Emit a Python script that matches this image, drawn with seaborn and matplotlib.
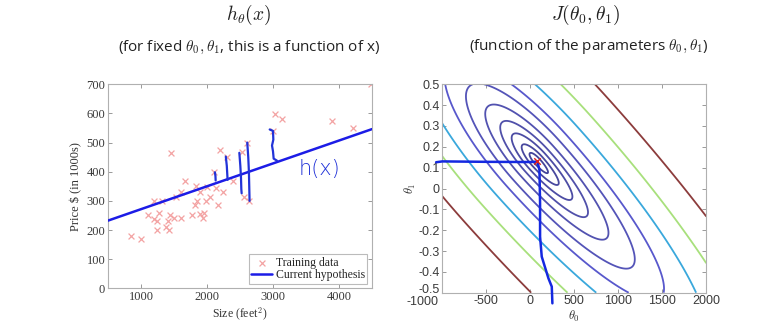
import numpy as np
import pandas as pd
import matplotlib
matplotlib.use("Agg")
import matplotlib.pyplot as plt
import matplotlib.transforms as mtransforms
import seaborn as sns

# ---------------- data ----------------
# training data (house size in feet^2, price in $1000s)
size_sqft = [2104, 1600, 2400, 1416, 3000, 1985, 1534, 1427, 1380, 1494, 1940, 2000,
             1890, 4478, 1268, 2300, 1320, 1236, 2609, 3031, 1767, 1888, 1604, 1962,
             3890, 1100, 1458, 2526, 2200, 2637, 1839, 1000, 2040, 3137, 1811, 1437,
             1239, 2132, 4215, 2162, 1664, 2238, 2567, 1200, 852, 1852, 1203]
price_k = [399.9, 329.9, 369.0, 232.0, 539.9, 299.9, 314.9, 199.0, 212.0, 242.5, 240.0, 347.0,
           330.0, 699.9, 259.9, 449.9, 299.9, 199.9, 500.0, 599.0, 252.9, 255.0, 242.9, 259.9,
           573.9, 249.9, 464.5, 469.0, 475.0, 299.9, 349.9, 169.9, 314.9, 579.9, 285.9, 249.9,
           229.9, 345.0, 549.0, 287.0, 368.5, 329.9, 314.0, 299.0, 179.9, 299.9, 239.5]

# current hypothesis h(x) = theta0 + theta1 * x
hyp_theta0 = 193.0
hyp_theta1 = 0.0785
hyp_x_range = [500, 4500]

left_xticks = [1000, 2000, 3000, 4000]
left_yticks = [0, 100, 200, 300, 400, 500, 600, 700]

# hand-drawn strokes on the left panel (data coords)
stroke_x = [[2120, 2128, 2131],
            [2285, 2300, 2310, 2312],
            [2490, 2505, 2515, 2520, 2525],
            [2610, 2625, 2635, 2640, 2645]]
stroke_y = [[398, 385, 370],
            [452, 420, 380, 372],
            [465, 420, 380, 340, 326],
            [500, 450, 400, 350, 300]]
bracket_x = [2950, 3000, 3005, 2985, 3000, 3010, 3060]
bracket_y = [545, 540, 510, 490, 470, 445, 438]

# cost function contour (quadratic bowl, shape parameters in axes-height units)
bowl_center = (80, 0.13)
bowl_angle_deg = 48.0
bowl_major_upper = 0.486
bowl_major_lower = 0.68
bowl_minor = 0.145
contour_sizes = [0.11, 0.22, 0.36, 0.52, 0.73, 1.0, 1.3, 1.75, 2.32, 3.13]
contour_colors = ['#44449a', '#48489e', '#4c4ca4', '#5050aa', '#5252b0', '#5454b8',
                  '#5858cc', '#3aa8dc', '#a8e07c', '#8c3c3c']

right_xticks = [-1000, -500, 0, 500, 1000, 1500, 2000]
right_yticks = [-0.5, -0.4, -0.3, -0.2, -0.1, 0, 0.1, 0.2, 0.3, 0.4, 0.5]
right_ylabels = ['-0.5', '-0.4', '-0.3', '-0.2', '-0.1', '0', '0.1', '0.2', '0.3', '0.4', '0.5']

# hand-drawn descent path on the right panel
path_t0 = [-1070, -1000, -500, 0, 81, 104, 111, 111, 130, 206, 244, 251]
path_t1 = [0.126, 0.13, 0.128, 0.127, 0.129, 0.089, -0.071, -0.231, -0.327, -0.431, -0.471, -0.551]
current_point = ([80], [0.13])

# ---------------- figure ----------------
sns.set_theme(style="white")
plt.rcParams['mathtext.fontset'] = 'cm'
plt.rcParams['font.family'] = ['DejaVu Sans']

W, H = 768, 331
fig = plt.figure(figsize=(W / 100, H / 100), dpi=100, facecolor='white')
axL = fig.add_axes([108 / W, (H - 288.3) / H, 264 / W, 204 / H])
axR = fig.add_axes([442.3 / W, (H - 292.7) / H, 264 / W, 208.4 / H])

spine_col = '#b0b0b0'
tick_lab_col = '#3a3a3a'
hand_col = '#2233d8'

# ---- left panel ----
df = pd.DataFrame({'size': size_sqft, 'price': price_k})
sns.scatterplot(data=df, x='size', y='price', marker='x', color='#f3a3a3', s=18,
                linewidth=0.9, ax=axL, label='Training data', zorder=2)
hx = np.array(hyp_x_range, dtype=float)
hyp = pd.DataFrame({'size': hx, 'price': hyp_theta0 + hyp_theta1 * hx})
sns.lineplot(data=hyp, x='size', y='price', color='#1c1ce6', linewidth=1.8, ax=axL,
             label='Current hypothesis', zorder=3)
for xs, ys in zip(stroke_x, stroke_y):
    axL.plot(xs, ys, color=hand_col, lw=1.6, solid_capstyle='round', zorder=4)
axL.plot(bracket_x, bracket_y, color=hand_col, lw=1.6, solid_capstyle='round', zorder=4)
axL.text(3700, 408, 'h(x)', color=hand_col, fontsize=15, ha='center', va='center',
         family='DejaVu Sans', fontweight='light', zorder=4)

axL.set_xlim(500, 4500)
axL.set_ylim(0, 700)
axL.set_xticks(left_xticks)
axL.set_yticks(left_yticks)
axL.set_xlabel('Size (feet$^2$)', family='Liberation Serif', fontsize=8.5, color='#333333', labelpad=2)
axL.set_ylabel('Price \\$ (in 1000s)', family='Liberation Serif', fontsize=9, color='#333333', labelpad=3)
leg = axL.legend(loc='lower right', prop={'family': 'Liberation Serif', 'size': 8.5},
                 frameon=True, fancybox=False, edgecolor='#bbbbbb', framealpha=1,
                 borderpad=0.2, handlelength=1.8, handletextpad=0.3, labelspacing=0.05,
                 borderaxespad=0.4)
leg.get_frame().set_linewidth(0.8)

# ---- right panel ----
t0 = np.linspace(-1000, 2000, 401)
t1 = np.linspace(-0.5, 0.5, 401)
T0, T1 = np.meshgrid(t0, t1)
u = (T0 - bowl_center[0]) / 3000.0 * (264 / 208.4)
v = (T1 - bowl_center[1])
th = np.deg2rad(bowl_angle_deg)
xp = u * np.cos(th) - v * np.sin(th)
yp = u * np.sin(th) + v * np.cos(th)
A = np.where(xp > 0, bowl_major_lower, bowl_major_upper)
Jv = (xp / A) ** 2 + (yp / bowl_minor) ** 2
levels = [s ** 2 for s in contour_sizes]
axR.contour(T0, T1, Jv, levels=levels, colors=contour_colors, linewidths=1.3)

sns.lineplot(x=path_t0, y=path_t1, sort=False, estimator=None, color='#1428e0',
             linewidth=1.8, ax=axR, clip_on=False, zorder=5)
sns.scatterplot(x=current_point[0], y=current_point[1], marker='x', color='#e02020',
                s=22, linewidth=1.0, ax=axR, zorder=6)

axR.set_xlim(-1000, 2000)
axR.set_ylim(-0.5, 0.5)
axR.set_xticks(right_xticks)
axR.set_xticklabels([str(t) for t in right_xticks])
axR.set_yticks(right_yticks)
axR.set_yticklabels(right_ylabels)
axR.set_xlabel(r'$\theta_0$', fontsize=9, color='#333333', labelpad=0)
axR.set_ylabel(r'$\theta_1$', fontsize=9, color='#333333', labelpad=0)

for ax, fam in ((axL, 'Liberation Serif'), (axR, 'Liberation Sans')):
    for sp in ax.spines.values():
        sp.set_color(spine_col)
        sp.set_linewidth(0.8)
        sp.set_visible(True)
    ax.tick_params(direction='in', length=3, width=0.7, color='#999999',
                   top=True, right=True, bottom=True, left=True,
                   labelsize=9, labelcolor=tick_lab_col, pad=2)
    for lab in ax.get_xticklabels() + ax.get_yticklabels():
        lab.set_fontfamily(fam)
    ax.set_facecolor('white')

# nudge the first theta0 tick label left (as in the reference) and the lowest theta1 label up
first_x = axR.get_xticklabels()[0]
first_x.set_transform(first_x.get_transform() + mtransforms.ScaledTranslation(-20 / 100, -1 / 100, fig.dpi_scale_trans))
first_y = axR.get_yticklabels()[0]
first_y.set_transform(first_y.get_transform() + mtransforms.ScaledTranslation(0, 4 / 100, fig.dpi_scale_trans))

# ---- titles ----
fig.text(249 / W, 1 - 15 / H, r'$h_\theta(x)$', ha='center', va='center', fontsize=14, color='#222222')
fig.text(586 / W, 1 - 15 / H, r'$J(\theta_0,\theta_1)$', ha='center', va='center', fontsize=14, color='#222222')
fig.text(249 / W, 1 - 47 / H, r'(for fixed $\theta_0,\theta_1$, this is a function of x)',
         ha='center', va='center', fontsize=11, family='Open Sans', color='#222222')
fig.text(589 / W, 1 - 47 / H, r'(function of the parameters $\theta_0,\theta_1$)',
         ha='center', va='center', fontsize=11, family='Open Sans', color='#222222')

fig.savefig('out.png', dpi=100, facecolor='white')
